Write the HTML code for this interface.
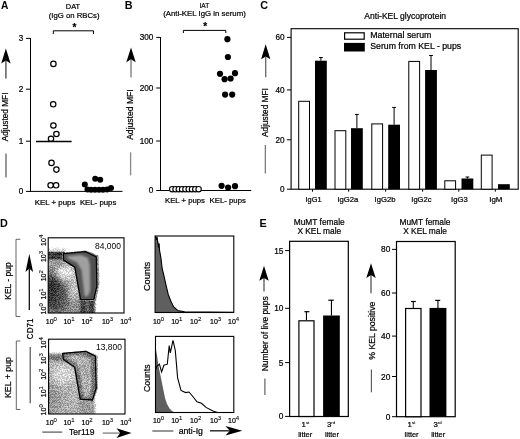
<!DOCTYPE html>
<html><head><meta charset="utf-8"><style>
html,body{margin:0;padding:0;background:#fff;}
svg{display:block;}
text{font-family:"Liberation Sans", sans-serif;stroke:#000;stroke-width:0.22px;}
</style></head><body>
<svg width="520" height="439" viewBox="0 0 520 439" xmlns="http://www.w3.org/2000/svg">
<defs>
<filter id="gblur" filterUnits="userSpaceOnUse" x="0" y="0" width="520" height="439"><feGaussianBlur stdDeviation="0.35"/></filter>
<filter id="dith" filterUnits="userSpaceOnUse" x="0" y="0" width="520" height="439" color-interpolation-filters="sRGB">
  <feColorMatrix in="SourceGraphic" type="matrix" values="1 0 0 0 0  0 0 0 0 0  0 0 0 0 0  0 0 0 1 0" result="gr0"/>
  <feComponentTransfer in="gr0" result="gr"><feFuncR type="table" tableValues="0.0000 0.0942 0.1332 0.1632 0.1884 0.2107 0.2308 0.2500 0.2692 0.2885 0.3077 0.3269 0.3462 0.3654 0.3846 0.4038 0.4231 0.4423 0.4615 0.4808 0.5000 0.5192 0.5385 0.5577 0.5769 0.5962 0.6154 0.6346 0.6538 0.6731 0.6923 0.7115 0.7308 0.7500 0.7692 0.7893 0.8116 0.8368 0.8668 0.9058 1.0000"/></feComponentTransfer>
  <feTurbulence type="fractalNoise" baseFrequency="1.37" numOctaves="1" seed="7" result="n0"/>
  <feComponentTransfer in="n0" result="n1"><feFuncR type="table" tableValues="0.3846 0.3846 0.3846 0.3846 0.3846 0.3846 0.3847 0.3848 0.3850 0.3855 0.3864 0.3880 0.3906 0.3949 0.4014 0.4106 0.4229 0.4384 0.4570 0.4779 0.5000 0.5221 0.5430 0.5616 0.5771 0.5894 0.5986 0.6051 0.6094 0.6120 0.6136 0.6145 0.6150 0.6152 0.6153 0.6154 0.6154 0.6154 0.6154 0.6154 0.6154"/></feComponentTransfer>
  <feColorMatrix in="n1" type="matrix" values="0 0 0 0 0  1 0 0 0 0  0 0 0 0 0  0 0 0 0 1" result="nn"/>
  <feComposite in="gr" in2="nn" operator="arithmetic" k1="0" k2="1" k3="1" k4="0" result="pk"/>
  <feColorMatrix in="pk" type="matrix" values="1.3 -1.3 0 0 0.5  1.3 -1.3 0 0 0.5  1.3 -1.3 0 0 0.5  0 0 0 0 1" result="o"/>
  <feComposite in="o" in2="SourceAlpha" operator="in"/>
</filter>
<filter id="b07" x="-50%" y="-50%" width="200%" height="200%"><feGaussianBlur stdDeviation="0.7"/></filter>
<filter id="b1" x="-50%" y="-50%" width="200%" height="200%"><feGaussianBlur stdDeviation="1"/></filter>
<filter id="b15" x="-50%" y="-50%" width="200%" height="200%"><feGaussianBlur stdDeviation="1.5"/></filter>
<filter id="b2" x="-50%" y="-50%" width="200%" height="200%"><feGaussianBlur stdDeviation="2"/></filter>
<filter id="b3" x="-50%" y="-50%" width="200%" height="200%"><feGaussianBlur stdDeviation="3"/></filter>
<filter id="b4" x="-50%" y="-50%" width="200%" height="200%"><feGaussianBlur stdDeviation="4"/></filter>
<filter id="blur3" x="-50%" y="-50%" width="200%" height="200%"><feGaussianBlur stdDeviation="3"/></filter>
</defs>
<rect width="520" height="439" fill="#fff"/>
<g filter="url(#gblur)">
<text x="0.9" y="9.0" font-size="10.8" text-anchor="start" font-weight="bold" fill="#000" textLength="7.4" lengthAdjust="spacingAndGlyphs" style="stroke-width:0">A</text>
<text x="73" y="9.3" font-size="7.9" text-anchor="middle" font-weight="normal" fill="#000" textLength="14.3" lengthAdjust="spacingAndGlyphs">DAT</text>
<text x="74.1" y="18.4" font-size="8.0" text-anchor="middle" font-weight="normal" fill="#000" textLength="50.8" lengthAdjust="spacingAndGlyphs">(IgG on RBCs)</text>
<text x="74.4" y="31.2" font-size="10" text-anchor="middle" font-weight="bold" fill="#000">*</text>
<path d="M53.3,34 V30.8 H93.5 V34" stroke="#000" stroke-width="1" fill="none"/>
<line x1="30.5" y1="38" x2="30.5" y2="191.5" stroke="#000" stroke-width="1"/>
<line x1="26" y1="38.4" x2="30.5" y2="38.4" stroke="#000" stroke-width="1"/>
<text x="23.4" y="41.3" font-size="8.2" text-anchor="end" font-weight="normal" fill="#000">3</text>
<line x1="26" y1="89.2" x2="30.5" y2="89.2" stroke="#000" stroke-width="1"/>
<text x="23.4" y="92.10000000000001" font-size="8.2" text-anchor="end" font-weight="normal" fill="#000">2</text>
<line x1="26" y1="141.2" x2="30.5" y2="141.2" stroke="#000" stroke-width="1"/>
<text x="23.4" y="144.1" font-size="8.2" text-anchor="end" font-weight="normal" fill="#000">1</text>
<line x1="26" y1="191.4" x2="30.5" y2="191.4" stroke="#000" stroke-width="1"/>
<text x="23.4" y="194.3" font-size="8.2" text-anchor="end" font-weight="normal" fill="#000">0</text>
<line x1="30" y1="191.4" x2="122.5" y2="191.4" stroke="#000" stroke-width="1"/>
<line x1="5.9" y1="60.4" x2="5.9" y2="78.5" stroke="#666" stroke-width="1.6"/>
<path d="M5.9,48.6 L10.600000000000001,63.6 L5.9,60.4 L1.2000000000000002,63.6 Z" fill="#000"/>
<text transform="translate(8.4,116.9) rotate(-90)" x="0" y="0" font-size="8.2" text-anchor="middle" font-weight="normal" fill="#000" textLength="48.7" lengthAdjust="spacingAndGlyphs">Adjusted MFI</text>
<line x1="6" y1="153.6" x2="6" y2="177.6" stroke="#444" stroke-width="1.1"/>
<circle cx="53.4" cy="63.9" r="2.7" fill="#fff" stroke="#000" stroke-width="1.2"/>
<circle cx="53.2" cy="104.3" r="2.7" fill="#fff" stroke="#000" stroke-width="1.2"/>
<circle cx="53.4" cy="125.5" r="2.7" fill="#fff" stroke="#000" stroke-width="1.2"/>
<circle cx="56.4" cy="134" r="2.7" fill="#fff" stroke="#000" stroke-width="1.2"/>
<circle cx="51" cy="138.8" r="2.7" fill="#fff" stroke="#000" stroke-width="1.2"/>
<circle cx="51.5" cy="162.9" r="2.7" fill="#fff" stroke="#000" stroke-width="1.2"/>
<circle cx="56.4" cy="169.6" r="2.7" fill="#fff" stroke="#000" stroke-width="1.2"/>
<circle cx="50.6" cy="185.3" r="2.7" fill="#fff" stroke="#000" stroke-width="1.2"/>
<circle cx="56.1" cy="185.3" r="2.7" fill="#fff" stroke="#000" stroke-width="1.2"/>
<line x1="36" y1="141.5" x2="71.6" y2="141.5" stroke="#000" stroke-width="1.3"/>
<circle cx="95.2" cy="178.8" r="3.0" fill="#000" stroke="none" stroke-width="0"/>
<circle cx="100.2" cy="179.8" r="3.0" fill="#000" stroke="none" stroke-width="0"/>
<circle cx="84.8" cy="184.6" r="3.0" fill="#000" stroke="none" stroke-width="0"/>
<circle cx="111" cy="188" r="3.0" fill="#000" stroke="none" stroke-width="0"/>
<circle cx="87.5" cy="189.6" r="3.0" fill="#000" stroke="none" stroke-width="0"/>
<circle cx="91" cy="189.8" r="3.0" fill="#000" stroke="none" stroke-width="0"/>
<circle cx="95" cy="189.8" r="3.0" fill="#000" stroke="none" stroke-width="0"/>
<circle cx="99" cy="189.8" r="3.0" fill="#000" stroke="none" stroke-width="0"/>
<circle cx="103" cy="189.8" r="3.0" fill="#000" stroke="none" stroke-width="0"/>
<circle cx="107" cy="189.6" r="3.0" fill="#000" stroke="none" stroke-width="0"/>
<line x1="86" y1="189" x2="111" y2="189" stroke="#000" stroke-width="1.5"/>
<text x="55.1" y="205" font-size="7.4" text-anchor="middle" font-weight="normal" fill="#000" textLength="40.6" lengthAdjust="spacingAndGlyphs">KEL + pups</text>
<text x="98.1" y="205" font-size="7.4" text-anchor="middle" font-weight="normal" fill="#000" textLength="36.4" lengthAdjust="spacingAndGlyphs">KEL- pups</text>
<text x="124.8" y="9.0" font-size="10.8" text-anchor="start" font-weight="bold" fill="#000" style="stroke-width:0">B</text>
<text x="204.4" y="7.9" font-size="7.9" text-anchor="middle" font-weight="normal" fill="#000" textLength="9.8" lengthAdjust="spacingAndGlyphs">IAT</text>
<text x="204.5" y="16.4" font-size="8.0" text-anchor="middle" font-weight="normal" fill="#000" textLength="82.6" lengthAdjust="spacingAndGlyphs">(Anti-KEL IgG in serum)</text>
<text x="205.3" y="30.4" font-size="10" text-anchor="middle" font-weight="bold" fill="#000">*</text>
<path d="M183.4,33 V30.4 H225.8 V33" stroke="#000" stroke-width="1" fill="none"/>
<line x1="160.5" y1="37" x2="160.5" y2="190.6" stroke="#000" stroke-width="1"/>
<line x1="156.2" y1="37.4" x2="160.5" y2="37.4" stroke="#000" stroke-width="1"/>
<text x="153.4" y="40.3" font-size="8.2" text-anchor="end" font-weight="normal" fill="#000">300</text>
<line x1="156.2" y1="88" x2="160.5" y2="88" stroke="#000" stroke-width="1"/>
<text x="153.4" y="90.9" font-size="8.2" text-anchor="end" font-weight="normal" fill="#000">200</text>
<line x1="156.2" y1="141" x2="160.5" y2="141" stroke="#000" stroke-width="1"/>
<text x="153.4" y="143.9" font-size="8.2" text-anchor="end" font-weight="normal" fill="#000">100</text>
<line x1="156.2" y1="190.5" x2="160.5" y2="190.5" stroke="#000" stroke-width="1"/>
<text x="153.4" y="193.4" font-size="8.2" text-anchor="end" font-weight="normal" fill="#000">0</text>
<line x1="160" y1="190.5" x2="251.2" y2="190.5" stroke="#000" stroke-width="1"/>
<line x1="131" y1="59.3" x2="131" y2="77.5" stroke="#888" stroke-width="1.5"/>
<path d="M131,47.6 L135.7,62.2 L131,59.3 L126.3,62.2 Z" fill="#000"/>
<text transform="translate(133.2,114.6) rotate(-90)" x="0" y="0" font-size="8.2" text-anchor="middle" font-weight="normal" fill="#000" textLength="50.5" lengthAdjust="spacingAndGlyphs">Adjusted MFI</text>
<line x1="130.6" y1="152.3" x2="130.6" y2="175.4" stroke="#888" stroke-width="1.3"/>
<circle cx="227.4" cy="39.2" r="3.1" fill="#000" stroke="none" stroke-width="0"/>
<circle cx="227.9" cy="57" r="3.1" fill="#000" stroke="none" stroke-width="0"/>
<circle cx="220" cy="73.8" r="3.1" fill="#000" stroke="none" stroke-width="0"/>
<circle cx="235" cy="73.2" r="3.1" fill="#000" stroke="none" stroke-width="0"/>
<circle cx="224.6" cy="79.2" r="3.1" fill="#000" stroke="none" stroke-width="0"/>
<circle cx="230.6" cy="78.5" r="3.1" fill="#000" stroke="none" stroke-width="0"/>
<circle cx="225.1" cy="94.6" r="3.1" fill="#000" stroke="none" stroke-width="0"/>
<circle cx="232.2" cy="94.6" r="3.1" fill="#000" stroke="none" stroke-width="0"/>
<circle cx="221.6" cy="185.8" r="3.1" fill="#000" stroke="none" stroke-width="0"/>
<circle cx="228.1" cy="187.6" r="3.1" fill="#000" stroke="none" stroke-width="0"/>
<circle cx="235" cy="186.2" r="3.1" fill="#000" stroke="none" stroke-width="0"/>
<circle cx="172.2" cy="189.2" r="2.7" fill="#fff" stroke="#000" stroke-width="1.1"/>
<circle cx="175.5" cy="189.2" r="2.7" fill="#fff" stroke="#000" stroke-width="1.1"/>
<circle cx="178.79999999999998" cy="189.2" r="2.7" fill="#fff" stroke="#000" stroke-width="1.1"/>
<circle cx="182.1" cy="189.2" r="2.7" fill="#fff" stroke="#000" stroke-width="1.1"/>
<circle cx="185.39999999999998" cy="189.2" r="2.7" fill="#fff" stroke="#000" stroke-width="1.1"/>
<circle cx="188.7" cy="189.2" r="2.7" fill="#fff" stroke="#000" stroke-width="1.1"/>
<circle cx="192.0" cy="189.2" r="2.7" fill="#fff" stroke="#000" stroke-width="1.1"/>
<circle cx="195.29999999999998" cy="189.2" r="2.7" fill="#fff" stroke="#000" stroke-width="1.1"/>
<circle cx="198.6" cy="189.2" r="2.7" fill="#fff" stroke="#000" stroke-width="1.1"/>
<text x="185" y="203.2" font-size="7.4" text-anchor="middle" font-weight="normal" fill="#000" textLength="39.9" lengthAdjust="spacingAndGlyphs">KEL + pups</text>
<text x="227.7" y="203.2" font-size="7.4" text-anchor="middle" font-weight="normal" fill="#000" textLength="36.3" lengthAdjust="spacingAndGlyphs">KEL- pups</text>
<text x="260.3" y="9.4" font-size="10.8" text-anchor="start" font-weight="bold" fill="#000" style="stroke-width:0">C</text>
<text x="405.2" y="18.6" font-size="8.6" text-anchor="middle" font-weight="normal" fill="#000" textLength="81.7" lengthAdjust="spacingAndGlyphs">Anti-KEL glycoprotein</text>
<rect x="291.1" y="28.7" width="227.1" height="160.5" fill="none" stroke="#000" stroke-width="1.1"/>
<line x1="287" y1="37.4" x2="291.1" y2="37.4" stroke="#000" stroke-width="1"/>
<text x="284.5" y="40.3" font-size="8.2" text-anchor="end" font-weight="normal" fill="#000">60</text>
<line x1="287" y1="89.9" x2="291.1" y2="89.9" stroke="#000" stroke-width="1"/>
<text x="284.5" y="92.80000000000001" font-size="8.2" text-anchor="end" font-weight="normal" fill="#000">40</text>
<line x1="287" y1="139.8" x2="291.1" y2="139.8" stroke="#000" stroke-width="1"/>
<text x="284.5" y="142.70000000000002" font-size="8.2" text-anchor="end" font-weight="normal" fill="#000">20</text>
<line x1="287" y1="189.2" x2="291.1" y2="189.2" stroke="#000" stroke-width="1"/>
<text x="284.5" y="192.1" font-size="8.2" text-anchor="end" font-weight="normal" fill="#000">0</text>
<line x1="265.7" y1="56.6" x2="265.7" y2="77.3" stroke="#666" stroke-width="1.3"/>
<path d="M265.7,44.3 L270.3,59.3 L265.7,56.6 L261.09999999999997,59.3 Z" fill="#000"/>
<text transform="translate(267.8,112.6) rotate(-90)" x="0" y="0" font-size="8.2" text-anchor="middle" font-weight="normal" fill="#000" textLength="48.7" lengthAdjust="spacingAndGlyphs">Adjusted MFI</text>
<line x1="265.3" y1="145" x2="265.3" y2="173.6" stroke="#666" stroke-width="1.1"/>
<rect x="344.6" y="32.8" width="19.6" height="6.4" fill="#fff" stroke="#000" stroke-width="1.2"/>
<rect x="344" y="42.9" width="20.8" height="8.6" fill="#000" stroke="none" stroke-width="0"/>
<text x="370.2" y="38.0" font-size="8.3" text-anchor="start" font-weight="normal" fill="#000" textLength="61.2" lengthAdjust="spacingAndGlyphs">Maternal serum</text>
<text x="370.2" y="49.3" font-size="8.3" text-anchor="start" font-weight="normal" fill="#000" textLength="91.0" lengthAdjust="spacingAndGlyphs">Serum from KEL - pups</text>
<rect x="298.7" y="101.3" width="10.8" height="87.89999999999999" fill="#fff" stroke="#000" stroke-width="1"/>
<rect x="315.0" y="60.7" width="11.8" height="128.5" fill="#000" stroke="none" stroke-width="0"/>
<line x1="320.9" y1="57.5" x2="320.9" y2="60.7" stroke="#000" stroke-width="1"/>
<line x1="319.0" y1="57.5" x2="322.8" y2="57.5" stroke="#000" stroke-width="1"/>
<line x1="312.5" y1="189.2" x2="312.5" y2="191.7" stroke="#000" stroke-width="1"/>
<text x="313.5" y="201.6" font-size="7.9" text-anchor="middle" font-weight="normal" fill="#000" textLength="16" lengthAdjust="spacingAndGlyphs">IgG1</text>
<rect x="335.0" y="130.7" width="10.8" height="58.5" fill="#fff" stroke="#000" stroke-width="1"/>
<rect x="351.0" y="128.2" width="11.8" height="61.0" fill="#000" stroke="none" stroke-width="0"/>
<line x1="356.9" y1="114.4" x2="356.9" y2="128.2" stroke="#000" stroke-width="1"/>
<line x1="355.0" y1="114.4" x2="358.8" y2="114.4" stroke="#000" stroke-width="1"/>
<line x1="348.65" y1="189.2" x2="348.65" y2="191.7" stroke="#000" stroke-width="1"/>
<text x="347.9" y="201.6" font-size="7.9" text-anchor="middle" font-weight="normal" fill="#000" textLength="21" lengthAdjust="spacingAndGlyphs">IgG2a</text>
<rect x="371.8" y="123.9" width="10.8" height="65.29999999999998" fill="#fff" stroke="#000" stroke-width="1"/>
<rect x="388.2" y="124.7" width="11.8" height="64.49999999999999" fill="#000" stroke="none" stroke-width="0"/>
<line x1="394.09999999999997" y1="107.4" x2="394.09999999999997" y2="124.7" stroke="#000" stroke-width="1"/>
<line x1="392.2" y1="107.4" x2="396.0" y2="107.4" stroke="#000" stroke-width="1"/>
<line x1="385.65" y1="189.2" x2="385.65" y2="191.7" stroke="#000" stroke-width="1"/>
<text x="385" y="201.6" font-size="7.9" text-anchor="middle" font-weight="normal" fill="#000" textLength="21" lengthAdjust="spacingAndGlyphs">IgG2b</text>
<rect x="408.8" y="61.4" width="10.8" height="127.79999999999998" fill="#fff" stroke="#000" stroke-width="1"/>
<rect x="425.1" y="70.0" width="11.8" height="119.19999999999999" fill="#000" stroke="none" stroke-width="0"/>
<line x1="431.0" y1="55.5" x2="431.0" y2="70.0" stroke="#000" stroke-width="1"/>
<line x1="429.1" y1="55.5" x2="432.90000000000003" y2="55.5" stroke="#000" stroke-width="1"/>
<line x1="422.6" y1="189.2" x2="422.6" y2="191.7" stroke="#000" stroke-width="1"/>
<text x="421.4" y="201.6" font-size="7.9" text-anchor="middle" font-weight="normal" fill="#000" textLength="20.2" lengthAdjust="spacingAndGlyphs">IgG2c</text>
<rect x="444.8" y="180.8" width="10.8" height="8.399999999999977" fill="#fff" stroke="#000" stroke-width="1"/>
<rect x="461.5" y="178.5" width="11.8" height="10.699999999999989" fill="#000" stroke="none" stroke-width="0"/>
<line x1="467.4" y1="177.0" x2="467.4" y2="178.5" stroke="#000" stroke-width="1"/>
<line x1="465.5" y1="177.0" x2="469.3" y2="177.0" stroke="#000" stroke-width="1"/>
<line x1="458.79999999999995" y1="189.2" x2="458.79999999999995" y2="191.7" stroke="#000" stroke-width="1"/>
<text x="459.5" y="201.6" font-size="7.9" text-anchor="middle" font-weight="normal" fill="#000" textLength="16.8" lengthAdjust="spacingAndGlyphs">IgG3</text>
<rect x="481.3" y="155.1" width="10.8" height="34.099999999999994" fill="#fff" stroke="#000" stroke-width="1"/>
<rect x="498.0" y="184.2" width="11.8" height="5.0" fill="#000" stroke="none" stroke-width="0"/>
<line x1="495.29999999999995" y1="189.2" x2="495.29999999999995" y2="191.7" stroke="#000" stroke-width="1"/>
<text x="495.8" y="201.6" font-size="7.9" text-anchor="middle" font-weight="normal" fill="#000" textLength="13.2" lengthAdjust="spacingAndGlyphs">IgM</text>
<text x="0" y="226.6" font-size="10.8" text-anchor="start" font-weight="bold" fill="#000" style="stroke-width:0">D</text>
<path d="M20.3,239.3 H16 V316.5 H20.3" stroke="#555" stroke-width="0.9" fill="none"/>
<path d="M20.3,341 H16.3 V409.5 H20.3" stroke="#555" stroke-width="0.9" fill="none"/>
<text transform="translate(10.8,281) rotate(-90)" x="0" y="0" font-size="8.4" text-anchor="middle" font-weight="normal" fill="#000" textLength="37.6" lengthAdjust="spacingAndGlyphs">KEL - pup</text>
<text transform="translate(10.8,377.5) rotate(-90)" x="0" y="0" font-size="8.4" text-anchor="middle" font-weight="normal" fill="#000" textLength="41" lengthAdjust="spacingAndGlyphs">KEL + pup</text>
<line x1="29.3" y1="268.6" x2="29.3" y2="309.9" stroke="#111" stroke-width="1.3"/>
<path d="M29.3,253.8 L33.1,272 L29.3,268.6 L25.5,272 Z" fill="#000"/>
<text transform="translate(33.1,328.9) rotate(-90)" x="0" y="0" font-size="8.3" text-anchor="middle" font-weight="normal" fill="#000" textLength="20.5" lengthAdjust="spacingAndGlyphs">CD71</text>
<line x1="30.2" y1="347" x2="30.2" y2="403.2" stroke="#444" stroke-width="1.1"/>
<clipPath id="clipd1"><rect x="48.2" y="237.8" width="75.8" height="75.2"/></clipPath>
<g clip-path="url(#clipd1)">
<g filter="url(#dith)">
<rect x="43.2" y="232.8" width="85.8" height="85.2" fill="#fff"/>
<polygon points="40,258 66,258 78,268 82,300 82,320 40,320" fill="#909090" filter="url(#b2)"/>
<ellipse cx="53" cy="292" rx="10" ry="18" fill="#2c2c2c" filter="url(#b4)"/>
<ellipse cx="60" cy="300" rx="7" ry="12" fill="#505050" filter="url(#b4)"/>
<ellipse cx="66" cy="272" rx="10" ry="8" fill="#e8e8e8" filter="url(#b3)"/>
<ellipse cx="74" cy="288" rx="4" ry="13" fill="#d8d8d8" filter="url(#b3)"/>
<rect x="40" y="261" width="25" height="5" fill="#a0a0a0" filter="url(#b15)"/>
<rect x="40" y="249" width="25" height="4" fill="#d0d0d0" filter="url(#b1)"/>
<rect x="40" y="251.8" width="25" height="7.6" fill="#383838" filter="url(#b07)"/>
<rect x="80" y="298.5" width="15" height="20" fill="#404040" filter="url(#b1)"/>
<rect x="85.5" y="300" width="3.5" height="16" fill="#6a6a6a" filter="url(#b1)"/>
<polygon points="62,253 86,250.5 98.8,255.5 99.3,285 96,301 80,301 75,268 62,260" fill="#9a9a9a" filter="url(#b07)"/>
</g>
<g><polygon points="63.2,253.7 85.5,251.6 96.3,256.9 96.9,286.2 93.8,299.3 80.6,299.6 74.8,267.1 63.6,260.1" fill="#555"/>
<polygon points="67,256.3 81,255 88,258 89.8,265 90.2,290 88,296 84.5,296 81.5,270 77,262.5 68,258.5" fill="#a0a0a0" filter="url(#b1)"/>
<polygon points="91.5,259 95.5,258 95.8,286 93,298 90.5,298 92,285" fill="#505050" filter="url(#b07)"/></g>
<polygon points="63.2,253.7 85.5,251.6 96.3,256.9 96.9,286.2 93.8,299.3 80.6,299.6 74.8,267.1 63.6,260.1" fill="none" stroke="#000" stroke-width="1.3" stroke-linejoin="round"/>
</g>
<rect x="48.2" y="237.8" width="75.8" height="75.2" fill="none" stroke="#000" stroke-width="1.1"/>
<text x="120.9" y="248.60000000000002" font-size="8.4" text-anchor="end" font-weight="normal" fill="#000" textLength="25.8" lengthAdjust="spacingAndGlyphs" style="stroke-width:0">84,000</text>
<clipPath id="clipd2"><rect x="48.6" y="339.2" width="76.4" height="74.8"/></clipPath>
<g clip-path="url(#clipd2)">
<g filter="url(#dith)">
<rect x="43.6" y="334.2" width="86.4" height="84.8" fill="#fff"/>
<polygon points="40,359 66,359 80,369 84,400 84,420 40,420" fill="#b2b2b2" filter="url(#b2)"/>
<ellipse cx="52" cy="400" rx="10" ry="16" fill="#959595" filter="url(#b4)"/>
<ellipse cx="64" cy="375" rx="11" ry="10" fill="#d8d8d8" filter="url(#b3)"/>
<rect x="40" y="353.8" width="25" height="7.5" fill="#7c7c7c" filter="url(#b1)"/>
<rect x="79" y="398" width="16" height="20" fill="#9a9a9a" filter="url(#b1)"/>
<polygon points="62,353 86,350.5 97.5,355.5 98,388 94,401 79,400 74,368 62,360" fill="#aaa" filter="url(#b07)"/>
</g>
<g filter="url(#dith)"><polygon points="62.7,353.3 85.8,351.4 95.4,356.2 96.2,388 92.5,400 80.2,399.2 74.7,367.3 63.2,359.3" fill="#707070"/>
<polygon points="66.5,356 81,354.5 90,358 92.5,366 92.5,388 89.5,397 83.5,397 79.5,370 75,363 67,358.5" fill="#b0b0b0" filter="url(#b1)"/>
<polygon points="91,360 94.5,358.5 95,388 92,398 90,398 91.5,386" fill="#777" filter="url(#b07)"/></g>
<polygon points="62.7,353.3 85.8,351.4 95.4,356.2 96.2,388 92.5,400 80.2,399.2 74.7,367.3 63.2,359.3" fill="none" stroke="#000" stroke-width="1.3" stroke-linejoin="round"/>
</g>
<rect x="48.6" y="339.2" width="76.4" height="74.8" fill="none" stroke="#000" stroke-width="1.1"/>
<text x="121.9" y="350.0" font-size="8.4" text-anchor="end" font-weight="normal" fill="#000" textLength="25.8" lengthAdjust="spacingAndGlyphs" style="stroke-width:0">13,800</text>
<text transform="translate(45.6,240.3) rotate(-90)" font-size="7.0" text-anchor="middle">10<tspan font-size="6.02" dy="-2.94" style="stroke-width:0.1">4</tspan></text>
<text transform="translate(45.6,256.5) rotate(-90)" font-size="7.0" text-anchor="middle">10<tspan font-size="6.02" dy="-2.94" style="stroke-width:0.1">3</tspan></text>
<text transform="translate(45.6,275.7) rotate(-90)" font-size="7.0" text-anchor="middle">10<tspan font-size="6.02" dy="-2.94" style="stroke-width:0.1">2</tspan></text>
<text transform="translate(45.6,293.9) rotate(-90)" font-size="7.0" text-anchor="middle">10<tspan font-size="6.02" dy="-2.94" style="stroke-width:0.1">1</tspan></text>
<text transform="translate(45.6,308.8) rotate(-90)" font-size="7.0" text-anchor="middle">10<tspan font-size="6.02" dy="-2.94" style="stroke-width:0.1">0</tspan></text>
<text transform="translate(45.6,342.8) rotate(-90)" font-size="7.0" text-anchor="middle">10<tspan font-size="6.02" dy="-2.94" style="stroke-width:0.1">4</tspan></text>
<text transform="translate(45.6,358.7) rotate(-90)" font-size="7.0" text-anchor="middle">10<tspan font-size="6.02" dy="-2.94" style="stroke-width:0.1">3</tspan></text>
<text transform="translate(45.6,374.2) rotate(-90)" font-size="7.0" text-anchor="middle">10<tspan font-size="6.02" dy="-2.94" style="stroke-width:0.1">2</tspan></text>
<text transform="translate(45.6,391.6) rotate(-90)" font-size="7.0" text-anchor="middle">10<tspan font-size="6.02" dy="-2.94" style="stroke-width:0.1">1</tspan></text>
<text transform="translate(45.6,409.8) rotate(-90)" font-size="7.0" text-anchor="middle">10<tspan font-size="6.02" dy="-2.94" style="stroke-width:0.1">0</tspan></text>
<text x="51.4" y="323.5" font-size="7.0" text-anchor="middle">10<tspan font-size="6.02" dy="-2.94" style="stroke-width:0.1">0</tspan></text>
<text x="51.4" y="424.5" font-size="7.0" text-anchor="middle">10<tspan font-size="6.02" dy="-2.94" style="stroke-width:0.1">0</tspan></text>
<text x="69" y="323.5" font-size="7.0" text-anchor="middle">10<tspan font-size="6.02" dy="-2.94" style="stroke-width:0.1">1</tspan></text>
<text x="69" y="424.5" font-size="7.0" text-anchor="middle">10<tspan font-size="6.02" dy="-2.94" style="stroke-width:0.1">1</tspan></text>
<text x="87.1" y="323.5" font-size="7.0" text-anchor="middle">10<tspan font-size="6.02" dy="-2.94" style="stroke-width:0.1">2</tspan></text>
<text x="87.1" y="424.5" font-size="7.0" text-anchor="middle">10<tspan font-size="6.02" dy="-2.94" style="stroke-width:0.1">2</tspan></text>
<text x="107.5" y="323.5" font-size="7.0" text-anchor="middle">10<tspan font-size="6.02" dy="-2.94" style="stroke-width:0.1">3</tspan></text>
<text x="107.5" y="424.5" font-size="7.0" text-anchor="middle">10<tspan font-size="6.02" dy="-2.94" style="stroke-width:0.1">3</tspan></text>
<text x="125.8" y="323.5" font-size="7.0" text-anchor="middle">10<tspan font-size="6.02" dy="-2.94" style="stroke-width:0.1">4</tspan></text>
<text x="125.8" y="424.5" font-size="7.0" text-anchor="middle">10<tspan font-size="6.02" dy="-2.94" style="stroke-width:0.1">4</tspan></text>
<clipPath id="cliph1"><rect x="155.1" y="236" width="78.7" height="76.5"/></clipPath>
<g clip-path="url(#cliph1)">
<polygon points="155.1,312.5 155.1,236 157.3,237.3 158.7,244.2 159.5,249.6 160.9,257.8 162.2,268.7 164.2,276.9 166,285.1 168.3,294.7 171,301.5 173.7,307 177.8,310.5 184.6,311.9 234,312.3 233.8,312.5" fill="#5e5e5e"/>
<polyline points="155.1,235.8 156.2,239 157,237.5 157.8,242 158.6,247.5 159.2,243.5 159.5,250.2 160.9,257.8 162.2,268.7 164.2,276.9 166,285.1 168.3,294.7 171,301.5 173.7,307 177.8,310.5 184.6,311.9 234,312.3" fill="none" stroke="#000" stroke-width="1.1"/>
</g>
<rect x="155.1" y="236" width="78.7" height="76.5" fill="none" stroke="#000" stroke-width="1.1"/>
<text transform="translate(149.6,276.5) rotate(-90)" x="0" y="0" font-size="9" text-anchor="middle" font-weight="normal" fill="#000" textLength="29.2" lengthAdjust="spacingAndGlyphs">Counts</text>
<clipPath id="cliph2"><rect x="155.5" y="336.4" width="78.3" height="76.1"/></clipPath>
<g clip-path="url(#cliph2)">
<polygon points="155.5,412.5 155.5,347 157,355 158.5,366 160.5,375.6 163,388 165,398 167,404 169.6,408.6 172,411 174.2,412.2 233.8,412.5" fill="#5e5e5e"/>
<polyline points="155.5,370 157,366 159.4,364.2 161.6,372 163.9,365.3 167.3,364.2 169.2,345.5 170.3,352.8 173,340.3 175.3,350.5 177.6,377.8 181,390.4 185.6,392.6 189,392 192.4,396 197,401.8 201.5,403.3 206,407.4 212.9,410.9 217.4,412.5" fill="none" stroke="#000" stroke-width="1.1"/>
</g>
<rect x="155.5" y="336.4" width="78.3" height="76.1" fill="none" stroke="#000" stroke-width="1.1"/>
<text transform="translate(149.8,378.2) rotate(-90)" x="0" y="0" font-size="8.6" text-anchor="middle" font-weight="normal" fill="#000" textLength="27.5" lengthAdjust="spacingAndGlyphs">Counts</text>
<text x="158.5" y="323.5" font-size="7.0" text-anchor="middle">10<tspan font-size="6.02" dy="-2.94" style="stroke-width:0.1">0</tspan></text>
<text x="158.5" y="423" font-size="7.0" text-anchor="middle">10<tspan font-size="6.02" dy="-2.94" style="stroke-width:0.1">0</tspan></text>
<text x="176.8" y="323.5" font-size="7.0" text-anchor="middle">10<tspan font-size="6.02" dy="-2.94" style="stroke-width:0.1">1</tspan></text>
<text x="176.8" y="423" font-size="7.0" text-anchor="middle">10<tspan font-size="6.02" dy="-2.94" style="stroke-width:0.1">1</tspan></text>
<text x="195.7" y="323.5" font-size="7.0" text-anchor="middle">10<tspan font-size="6.02" dy="-2.94" style="stroke-width:0.1">2</tspan></text>
<text x="195.7" y="423" font-size="7.0" text-anchor="middle">10<tspan font-size="6.02" dy="-2.94" style="stroke-width:0.1">2</tspan></text>
<text x="215.6" y="323.5" font-size="7.0" text-anchor="middle">10<tspan font-size="6.02" dy="-2.94" style="stroke-width:0.1">3</tspan></text>
<text x="215.6" y="423" font-size="7.0" text-anchor="middle">10<tspan font-size="6.02" dy="-2.94" style="stroke-width:0.1">3</tspan></text>
<text x="233.6" y="323.5" font-size="7.0" text-anchor="middle">10<tspan font-size="6.02" dy="-2.94" style="stroke-width:0.1">4</tspan></text>
<text x="233.6" y="423" font-size="7.0" text-anchor="middle">10<tspan font-size="6.02" dy="-2.94" style="stroke-width:0.1">4</tspan></text>
<line x1="42.3" y1="432.1" x2="62.2" y2="432.1" stroke="#444" stroke-width="1.1"/>
<text x="81.8" y="435" font-size="8.2" text-anchor="middle" font-weight="normal" fill="#000" textLength="25.4" lengthAdjust="spacingAndGlyphs">Ter119</text>
<line x1="102.7" y1="433.1" x2="120.2" y2="433.1" stroke="#888" stroke-width="1.4"/>
<path d="M131.5,433.1 L116.5,428.3 L120.2,433.1 L116.5,437.90000000000003 Z" fill="#000"/>
<line x1="152.3" y1="431" x2="173.4" y2="431" stroke="#444" stroke-width="1.1"/>
<text x="190.8" y="434.2" font-size="8.2" text-anchor="middle" font-weight="normal" fill="#000" textLength="24.3" lengthAdjust="spacingAndGlyphs">anti-Ig</text>
<line x1="210" y1="430.8" x2="229.8" y2="430.8" stroke="#222" stroke-width="1.4"/>
<path d="M242.3,430.8 L225.5,426.0 L229.8,430.8 L225.5,435.6 Z" fill="#000"/>
<text x="259.6" y="227.0" font-size="10.8" text-anchor="start" font-weight="bold" fill="#000" style="stroke-width:0">E</text>
<text x="319.2" y="224.5" font-size="9.0" text-anchor="middle" font-weight="normal" fill="#000" textLength="51" lengthAdjust="spacingAndGlyphs">MuMT female</text>
<text x="319.3" y="234.4" font-size="9.0" text-anchor="middle" font-weight="normal" fill="#000" textLength="43.8" lengthAdjust="spacingAndGlyphs">X KEL male</text>
<rect x="289.6" y="241.3" width="58.69999999999999" height="175.2" fill="none" stroke="#000" stroke-width="1.2"/>
<line x1="285.1" y1="250.6" x2="289.6" y2="250.6" stroke="#000" stroke-width="1"/>
<text x="283.40000000000003" y="253.6" font-size="8.3" text-anchor="end" font-weight="normal" fill="#000">15</text>
<line x1="285.1" y1="308.3" x2="289.6" y2="308.3" stroke="#000" stroke-width="1"/>
<text x="283.40000000000003" y="311.3" font-size="8.3" text-anchor="end" font-weight="normal" fill="#000">10</text>
<line x1="285.1" y1="362.6" x2="289.6" y2="362.6" stroke="#000" stroke-width="1"/>
<text x="283.40000000000003" y="365.6" font-size="8.3" text-anchor="end" font-weight="normal" fill="#000">5</text>
<line x1="285.1" y1="416.4" x2="289.6" y2="416.4" stroke="#000" stroke-width="1"/>
<text x="283.40000000000003" y="419.4" font-size="8.3" text-anchor="end" font-weight="normal" fill="#000">0</text>
<line x1="306.45000000000005" y1="311.7" x2="306.45000000000005" y2="320.2" stroke="#000" stroke-width="1.1"/>
<line x1="304.4" y1="311.7" x2="309.4" y2="311.7" stroke="#000" stroke-width="1.2"/>
<rect x="298.90000000000003" y="320.8" width="15.100000000000012" height="95.70000000000002" fill="#fff" stroke="#000" stroke-width="1.2"/>
<line x1="331.45000000000005" y1="300.2" x2="331.45000000000005" y2="315.5" stroke="#000" stroke-width="1.1"/>
<line x1="328.3" y1="300.2" x2="333.8" y2="300.2" stroke="#000" stroke-width="1.2"/>
<rect x="323.1" y="315.5" width="16.69999999999999" height="101.0" fill="#000" stroke="none" stroke-width="0"/>
<line x1="264" y1="277.9" x2="264" y2="291.5" stroke="#555" stroke-width="1.3"/>
<path d="M264,265.8 L268.7,280.8 L264,277.9 L259.3,280.8 Z" fill="#000"/>
<text transform="translate(268.2,333.8) rotate(-90)" x="0" y="0" font-size="8.4" text-anchor="middle" font-weight="normal" fill="#000" textLength="75" lengthAdjust="spacingAndGlyphs">Number of live pups</text>
<line x1="264.9" y1="378.4" x2="264.9" y2="395" stroke="#555" stroke-width="1.1"/>
<text x="301.6" y="427" font-size="7.8" text-anchor="start">1<tspan font-size="4.3" dy="-2.6" style="stroke-width:0.1">st</tspan></text>
<text x="326.9" y="427" font-size="7.8" text-anchor="start">3<tspan font-size="4.3" dy="-2.6" style="stroke-width:0.1">rd</tspan></text>
<text x="305.2" y="436.6" font-size="8.0" text-anchor="middle" font-weight="normal" fill="#000" textLength="14.0" lengthAdjust="spacingAndGlyphs">litter</text>
<text x="331.9" y="436.6" font-size="8.0" text-anchor="middle" font-weight="normal" fill="#000" textLength="14.0" lengthAdjust="spacingAndGlyphs">litter</text>
<text x="425" y="224.5" font-size="9.0" text-anchor="middle" font-weight="normal" fill="#000" textLength="51" lengthAdjust="spacingAndGlyphs">MuMT female</text>
<text x="425.1" y="234.4" font-size="9.0" text-anchor="middle" font-weight="normal" fill="#000" textLength="43.8" lengthAdjust="spacingAndGlyphs">X KEL male</text>
<rect x="396.5" y="241.5" width="58.69999999999999" height="175.2" fill="none" stroke="#000" stroke-width="1.2"/>
<line x1="392.0" y1="249.4" x2="396.5" y2="249.4" stroke="#000" stroke-width="1"/>
<text x="390.3" y="252.4" font-size="8.3" text-anchor="end" font-weight="normal" fill="#000">80</text>
<line x1="392.0" y1="293" x2="396.5" y2="293" stroke="#000" stroke-width="1"/>
<text x="390.3" y="296.0" font-size="8.3" text-anchor="end" font-weight="normal" fill="#000">60</text>
<line x1="392.0" y1="336.1" x2="396.5" y2="336.1" stroke="#000" stroke-width="1"/>
<text x="390.3" y="339.1" font-size="8.3" text-anchor="end" font-weight="normal" fill="#000">40</text>
<line x1="392.0" y1="376.5" x2="396.5" y2="376.5" stroke="#000" stroke-width="1"/>
<text x="390.3" y="379.5" font-size="8.3" text-anchor="end" font-weight="normal" fill="#000">20</text>
<line x1="392.0" y1="416.7" x2="396.5" y2="416.7" stroke="#000" stroke-width="1"/>
<text x="390.3" y="419.7" font-size="8.3" text-anchor="end" font-weight="normal" fill="#000">0</text>
<line x1="413.3" y1="301.5" x2="413.3" y2="307.9" stroke="#000" stroke-width="1.1"/>
<line x1="411" y1="301.5" x2="415.8" y2="301.5" stroke="#000" stroke-width="1.2"/>
<rect x="405.6" y="308.5" width="15.400000000000023" height="108.20000000000002" fill="#fff" stroke="#000" stroke-width="1.2"/>
<line x1="437.95" y1="300.4" x2="437.95" y2="307.9" stroke="#000" stroke-width="1.1"/>
<line x1="435.2" y1="300.4" x2="440.2" y2="300.4" stroke="#000" stroke-width="1.2"/>
<rect x="429.5" y="307.9" width="16.899999999999977" height="108.80000000000001" fill="#000" stroke="none" stroke-width="0"/>
<line x1="371" y1="275" x2="371" y2="293.2" stroke="#555" stroke-width="1.3"/>
<path d="M371,263.3 L375.7,277.9 L371,275 L366.3,277.9 Z" fill="#000"/>
<text transform="translate(375,330.7) rotate(-90)" x="0" y="0" font-size="8.6" text-anchor="middle" font-weight="normal" fill="#000" textLength="58" lengthAdjust="spacingAndGlyphs">% KEL positive</text>
<line x1="371.4" y1="369.6" x2="371.4" y2="392.2" stroke="#555" stroke-width="1.1"/>
<text x="407.6" y="427" font-size="7.8" text-anchor="start">1<tspan font-size="4.3" dy="-2.6" style="stroke-width:0.1">st</tspan></text>
<text x="433.4" y="427" font-size="7.8" text-anchor="start">3<tspan font-size="4.3" dy="-2.6" style="stroke-width:0.1">rd</tspan></text>
<text x="411.6" y="436.6" font-size="8.0" text-anchor="middle" font-weight="normal" fill="#000" textLength="14.0" lengthAdjust="spacingAndGlyphs">litter</text>
<text x="438.2" y="436.6" font-size="8.0" text-anchor="middle" font-weight="normal" fill="#000" textLength="14.0" lengthAdjust="spacingAndGlyphs">litter</text>
</g>
</svg>
</body></html>
